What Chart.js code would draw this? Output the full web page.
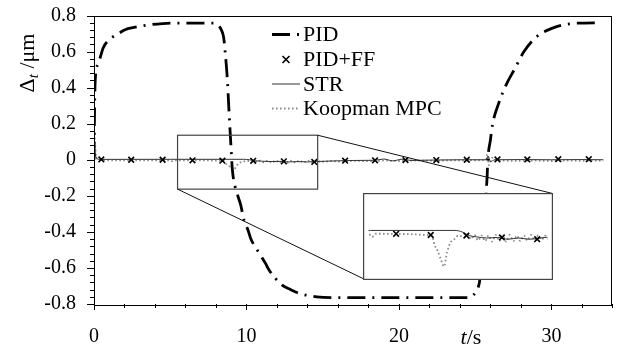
<!DOCTYPE html>
<html>
<head>
<meta charset="utf-8">
<script src="https://cdn.jsdelivr.net/npm/chart.js@4.4.1/dist/chart.umd.min.js"></script>
<style>
  html, body { margin: 0; padding: 0; background: #fff; }
  #wrap { position: relative; width: 618px; height: 352px; }
  #inset { position: absolute; background: #fff; }
</style>
</head>
<body>
<div id="wrap">
  <canvas id="mainChart" width="618" height="352"></canvas>
  <div id="inset"><canvas id="insetChart"></canvas></div>
</div>
<script>
// Series data (t in s, displacement in um)
const pidT = [0, 0.02, 0.04, 0.08, 0.25, 0.42, 0.6, 1.0, 1.7, 2.0, 2.7, 3.6, 4.5, 5.5, 7.8, 8.1, 8.35, 8.5, 8.6, 8.75, 8.86, 9.0, 9.07, 9.4, 9.62, 9.84, 10.1, 10.27, 10.93, 11.25, 11.47, 12.34, 12.89, 13.43, 14.6, 16, 24.5, 24.75, 25.05, 25.3, 25.55, 25.72, 25.78, 25.83, 26.0, 26.15, 26.53, 27.0, 27.6, 28.2, 29.0, 30.07, 31.3, 32, 33.2];
const pidVal = [0, 0.15, 0.3, 0.44, 0.53, 0.57, 0.62, 0.665, 0.705, 0.72, 0.735, 0.748, 0.755, 0.758, 0.758, 0.75, 0.72, 0.68, 0.6, 0.44, 0.26, 0.05, -0.05, -0.19, -0.25, -0.335, -0.39, -0.435, -0.53, -0.575, -0.61, -0.695, -0.72, -0.74, -0.76, -0.765, -0.765, -0.76, -0.73, -0.67, -0.45, -0.18, -0.1, 0, 0.11, 0.2, 0.31, 0.41, 0.505, 0.6, 0.68, 0.73, 0.755, 0.758, 0.76];

const ffT = [0.48, 2.44, 4.5, 6.46, 8.42, 10.44, 12.45, 14.45, 16.47, 18.43, 20.43, 22.45, 24.45, 26.46, 28.42, 30.45, 32.45];
const ffVal = [0.002, 0, 0, -0.003, -0.005, -0.006, -0.009, -0.012, -0.005, -0.003, -0.002, -0.002, 0, 0.002, 0.002, 0.003, 0.003];

const strT = [0, 0.05, 0.15, 0.4, 5, 9.8, 10.2, 10.6, 11.0, 11.6, 12.2, 12.8, 13.4, 14.0, 14.6, 15.2, 16, 17, 18.4, 19.0, 19.6, 20.2, 20.8, 22, 24, 25.7, 25.85, 26.0, 26.3, 28, 30, 32, 33.4];
const strVal = [0, 0.04, 0.01, 0.002, 0.0025, 0.0025, 0, -0.006, -0.008, -0.01, -0.009, -0.012, -0.01, -0.012, -0.01, -0.008, -0.006, -0.004, -0.003, 0.004, -0.006, 0.003, -0.004, -0.002, 0, 0, 0.02, -0.01, 0, 0.001, 0, 0.001, 0];

const koopT = [0, 0.03, 0.07, 0.12, 0.2, 0.5, 2, 4.9, 5.1, 5.3, 8.5, 8.63, 8.81, 8.99, 9.17, 9.35, 9.53, 9.79, 9.97, 10.32, 10.5, 10.7, 10.9, 11.1, 11.3, 11.5, 11.7, 11.9, 12.1, 12.3, 12.5, 12.7, 12.9, 13.1, 13.3, 13.5, 13.7, 13.9, 14.1, 14.3, 14.5, 14.7, 14.9, 15.1, 15.5, 16, 17, 18, 19, 20, 21, 22, 24, 25.7, 25.8, 25.9, 26.1, 26.4, 28, 29, 30, 31, 32, 33.4];
const koopVal = [0, 0.15, 0.09, 0.03, 0.005, -0.002, -0.003, -0.003, -0.008, -0.003, -0.006, -0.021, -0.031, -0.045, -0.057, -0.033, -0.018, -0.011, -0.006, -0.008, -0.004, -0.012, -0.005, -0.014, -0.006, -0.015, -0.006, -0.016, -0.005, -0.015, -0.006, -0.016, -0.005, -0.015, -0.006, -0.015, -0.006, -0.014, -0.005, -0.014, -0.006, -0.013, -0.006, -0.012, -0.006, -0.01, -0.006, -0.008, -0.005, -0.007, -0.004, -0.005, -0.003, -0.002, 0.03, -0.03, 0.01, -0.002, -0.006, -0.004, -0.007, -0.004, -0.006, -0.004];

// Axis settings
const xMin = 0, xMax = 34;
const yMin = -0.8, yMax = 0.8;
const yTickLabels = ['0.8', '0.6', '0.4', '0.2', '0', '-0.2', '-0.4', '-0.6', '-0.8'];

// Zoom window (source box on main axes, inset axes range, inset placement in main units)
const zoomBox = { t0: 5.48, t1: 14.67, v0: -0.163, v1: 0.136 };
const insetRange = { t0: 4.9, t1: 15.03, v0: -0.07, v1: 0.055 };
const insetPlace = { t0: 17.65, t1: 30.07, v0: -0.659, v1: -0.187 };

const SERIF = "'Liberation Serif', 'Times New Roman', serif";

function pts(ts, vs) {
    return ts.map((t, i) => ({ x: t, y: vs[i] }));
}

function makeDatasets(withPid) {
    const sets = [];
    if (withPid) {
        sets.push({
            label: 'PID', data: pts(pidT, pidVal),
            borderColor: '#000', borderWidth: 2.8, borderDash: [18, 7, 2, 7],
            pointRadius: 0, cubicInterpolationMode: 'monotone'
        });
    }
    sets.push({
        label: 'PID+FF', data: pts(ffT, ffVal), showLine: false,
        pointStyle: 'crossRot', pointRadius: 4, borderColor: '#000', borderWidth: 1.6
    });
    sets.push({
        label: 'STR', data: pts(strT, strVal),
        borderColor: '#333', borderWidth: 1, pointRadius: 0, cubicInterpolationMode: 'monotone'
    });
    sets.push({
        label: 'Koopman MPC', data: pts(koopT, koopVal),
        borderColor: '#8a8a8a', borderWidth: 1.8, borderDash: [1.6, 2.4],
        pointRadius: 0, cubicInterpolationMode: 'monotone'
    });
    return sets;
}

// ticks, frame, labels, legend, zoom box
const decorPlugin = {
    id: 'decor',
    afterDatasetsDraw(chart) {
        const ctx = chart.ctx;
        const xs = chart.scales.x, ys = chart.scales.y;
        const a = chart.chartArea;
        ctx.save();
        ctx.strokeStyle = '#000';
        ctx.lineWidth = 1;
        ctx.strokeRect(Math.round(a.left) + 0.5, Math.round(a.top) + 0.5,
            Math.round(a.right - a.left) - 1, Math.round(a.bottom - a.top));

        // y ticks (minor every 0.04)
        for (let i = -20; i <= 20; i++) {
            const y = Math.round(ys.getPixelForValue(i * 0.04)) + 0.5;
            const len = i % 5 === 0 ? 7 : 4;
            ctx.beginPath();
            ctx.moveTo(a.left - len, y);
            ctx.lineTo(a.left, y);
            ctx.stroke();
        }
        // x ticks (every 2 s)
        for (let i = 0; i <= 17; i++) {
            const x = Math.round(xs.getPixelForValue(i * 2)) + 0.5;
            const len = (i * 2) % 10 === 0 ? 6 : 4;
            ctx.beginPath();
            ctx.moveTo(x, a.bottom);
            ctx.lineTo(x, a.bottom + len);
            ctx.stroke();
        }

        // zoom source box + connectors
        const bx0 = xs.getPixelForValue(zoomBox.t0), bx1 = xs.getPixelForValue(zoomBox.t1);
        const by0 = ys.getPixelForValue(zoomBox.v1), by1 = ys.getPixelForValue(zoomBox.v0);
        ctx.strokeStyle = '#444';
        ctx.lineWidth = 1.2;
        ctx.strokeRect(bx0, by0, bx1 - bx0, by1 - by0);
        const ix0 = xs.getPixelForValue(insetPlace.t0), ix1 = xs.getPixelForValue(insetPlace.t1);
        const iy0 = ys.getPixelForValue(insetPlace.v1), iy1 = ys.getPixelForValue(insetPlace.v0);
        ctx.strokeStyle = '#111';
        ctx.lineWidth = 1;
        ctx.beginPath();
        ctx.moveTo(bx1, by0); ctx.lineTo(ix1, iy0);
        ctx.moveTo(bx0, by1); ctx.lineTo(ix0, iy1);
        ctx.stroke();

        // axis titles
        ctx.fillStyle = '#000';
        ctx.textBaseline = 'middle';
        ctx.font = 'italic 22px ' + SERIF;
        const tw = ctx.measureText('t').width;
        ctx.font = '22px ' + SERIF;
        const sw = ctx.measureText('/s').width;
        let tx = 471 - (tw + sw) / 2;
        ctx.font = 'italic 22px ' + SERIF;
        ctx.textAlign = 'left';
        ctx.fillText('t', tx, 338);
        ctx.font = '22px ' + SERIF;
        ctx.fillText('/s', tx + tw, 338);

        ctx.save();
        ctx.translate(28, 63);
        ctx.rotate(-Math.PI / 2);
        ctx.font = '22px ' + SERIF;
        const dW = ctx.measureText('\u0394').width;
        ctx.font = 'italic 15px ' + SERIF;
        const subW = ctx.measureText('t').width;
        ctx.font = '22px ' + SERIF;
        const restW = ctx.measureText(' /\u03bcm').width;
        let lx = -(dW + subW + restW) / 2;
        ctx.fillText('\u0394', lx, 0);
        ctx.font = 'italic 15px ' + SERIF;
        ctx.fillText('t', lx + dW, 6);
        ctx.font = '22px ' + SERIF;
        ctx.fillText(' /\u03bcm', lx + dW + subW, 0);
        ctx.restore();

        // legend
        const rows = [34.5, 59.5, 84, 108.5];
        const sets = chart.data.datasets;
        sets.forEach((ds, i) => {
            const y = rows[i];
            ctx.save();
            ctx.strokeStyle = ds.borderColor;
            ctx.lineWidth = ds.borderWidth;
            if (ds.showLine === false) {
                const cx = 286, r = 3.5;
                ctx.beginPath();
                ctx.moveTo(cx - r, y - r); ctx.lineTo(cx + r, y + r);
                ctx.moveTo(cx - r, y + r); ctx.lineTo(cx + r, y - r);
                ctx.stroke();
            } else {
                ctx.setLineDash(ds.borderDash || []);
                ctx.beginPath();
                ctx.moveTo(272, y);
                ctx.lineTo(ds.label === 'PID' ? 301 : 300, y);
                ctx.stroke();
            }
            ctx.restore();
            ctx.fillStyle = '#000';
            ctx.font = '22px ' + SERIF;
            ctx.textAlign = 'left';
            ctx.textBaseline = 'middle';
            ctx.fillText(ds.label, 303, y + 1);
        });
        ctx.restore();
    }
};

const mainChart = new Chart(document.getElementById('mainChart'), {
    type: 'line',
    data: { datasets: makeDatasets(true) },
    options: {
        responsive: false,
        animation: false,
        events: [],
        layout: { padding: { top: 15.5, right: 3, left: 0, bottom: 0 } },
        plugins: { legend: { display: false }, tooltip: { enabled: false } },
        scales: {
            x: {
                type: 'linear', min: xMin, max: xMax,
                grid: { display: false },
                border: { display: false },
                ticks: {
                    stepSize: 10, padding: 13, color: '#000',
                    font: { family: SERIF, size: 20 },
                    maxRotation: 0,
                    callback: v => (v % 10 === 0 ? String(v) : '')
                },
                afterFit: s => {
                    s.height = 48;
                    s.paddingLeft = 0;
                    s.paddingRight = 0;
                }
            },
            y: {
                type: 'linear', min: yMin, max: yMax,
                grid: { display: false },
                border: { display: false },
                ticks: {
                    stepSize: 0.2, padding: 10, color: '#000',
                    font: { family: SERIF, size: 20 },
                    callback: (v, i) => yTickLabels[yTickLabels.length - 1 - i]
                },
                afterFit: s => {
                    s.width = 94;
                    s.paddingTop = 0;
                    s.paddingBottom = 0;
                }
            }
        }
    },
    plugins: [decorPlugin]
});

// Inset (magnified view) placed over the main axes
const xs = mainChart.scales.x, ys = mainChart.scales.y;
const insL = Math.round(xs.getPixelForValue(insetPlace.t0));
const insR = Math.round(xs.getPixelForValue(insetPlace.t1));
const insT = Math.round(ys.getPixelForValue(insetPlace.v1));
const insB = Math.round(ys.getPixelForValue(insetPlace.v0));
const insetDiv = document.getElementById('inset');
insetDiv.style.left = insL + 'px';
insetDiv.style.top = insT + 'px';
const insetCanvas = document.getElementById('insetChart');
insetCanvas.width = insR - insL + 1;
insetCanvas.height = insB - insT + 1;

const framePlugin = {
    id: 'frame',
    afterDraw(chart) {
        const ctx = chart.ctx;
        ctx.save();
        ctx.strokeStyle = '#444';
        ctx.lineWidth = 1.2;
        ctx.strokeRect(0.6, 0.6, chart.width - 1.2, chart.height - 1.2);
        ctx.restore();
    }
};

new Chart(insetCanvas, {
    type: 'line',
    data: { datasets: makeDatasets(false) },
    options: {
        responsive: false,
        animation: false,
        events: [],
        layout: { padding: 0 },
        plugins: { legend: { display: false }, tooltip: { enabled: false } },
        scales: {
            x: { type: 'linear', min: insetRange.t0, max: insetRange.t1, display: false },
            y: { type: 'linear', min: insetRange.v0, max: insetRange.v1, display: false }
        }
    },
    plugins: [framePlugin]
});
</script>
</body>
</html>
